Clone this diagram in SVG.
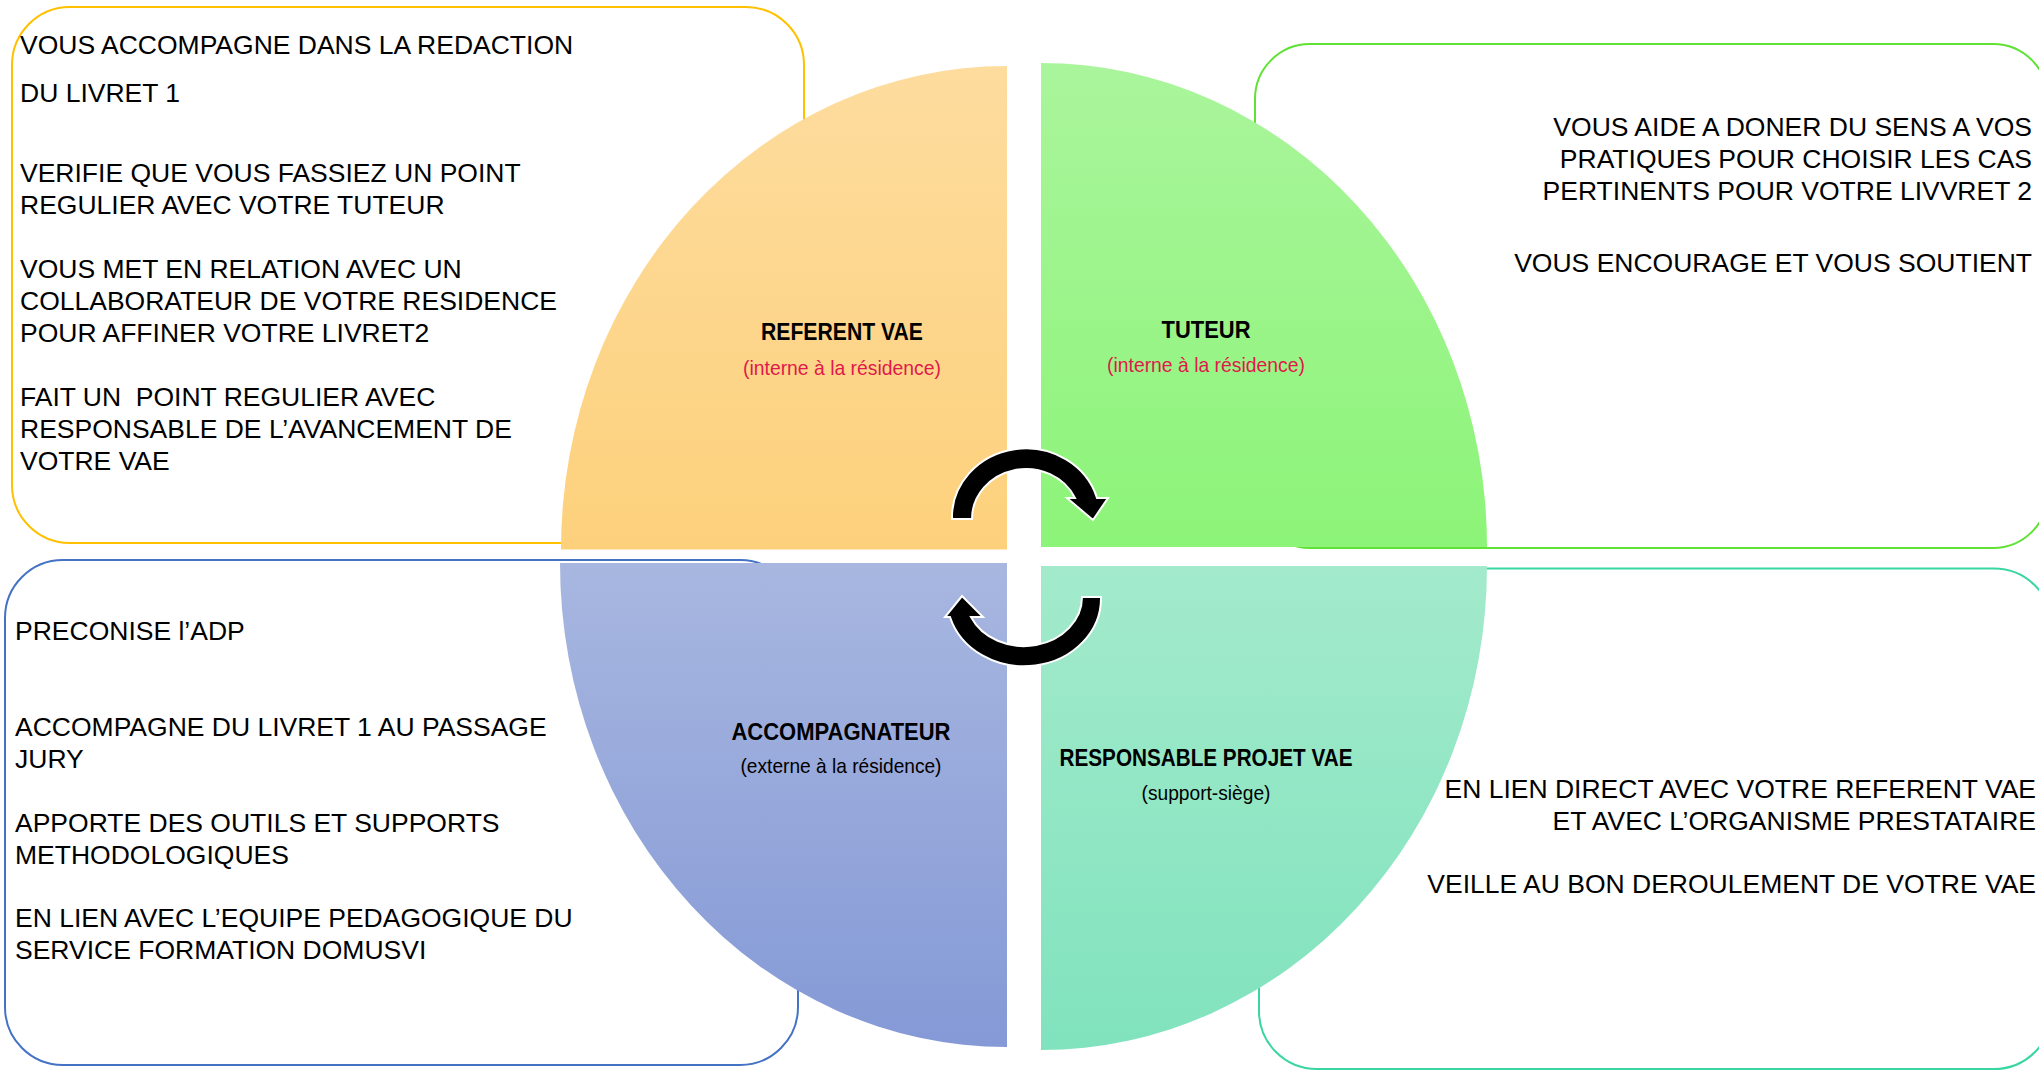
<svg xmlns="http://www.w3.org/2000/svg" width="2039" height="1070" viewBox="0 0 2039 1070">
<defs>
  <linearGradient id="gOrange" x1="0" y1="0" x2="0" y2="1"><stop offset="0" stop-color="#FDDC9E"/><stop offset="1" stop-color="#FDD17C"/></linearGradient>
  <linearGradient id="gGreen" x1="0" y1="0" x2="0" y2="1"><stop offset="0" stop-color="#AAF59C"/><stop offset="1" stop-color="#8CF478"/></linearGradient>
  <linearGradient id="gBlue" x1="0" y1="0" x2="0" y2="1"><stop offset="0" stop-color="#A8B7E0"/><stop offset="1" stop-color="#8499D6"/></linearGradient>
  <linearGradient id="gTeal" x1="0" y1="0" x2="0" y2="1"><stop offset="0" stop-color="#A3EACC"/><stop offset="1" stop-color="#80E3BD"/></linearGradient>
</defs>
<style>
  .box{fill:#fff;stroke-width:2}
  .t{font-family:"Liberation Sans",Arial,sans-serif;font-size:26.5px;fill:#000}
  .r{text-anchor:end}
  .lbl{font-family:"Liberation Sans",Arial,sans-serif;font-weight:bold;font-size:23px;text-anchor:middle;fill:#000}
  .sub{font-family:"Liberation Sans",Arial,sans-serif;font-size:21px;text-anchor:middle;fill:#000}
  .red{fill:#E0194B}
  .arrow{fill:#000;stroke:#fff;stroke-width:2;stroke-linejoin:miter}
</style>
<rect width="2039" height="1070" fill="#fff"/>

<g id="referent-vae">
  <rect class="box" x="12" y="7" width="792" height="536" rx="58" stroke="#FFC000"/>
  <path d="M1007,549.5 L561,549.5 A446,483.5 0 0 1 1007,66 Z" fill="url(#gOrange)"/>
  <text class="lbl" x="842" y="340" textLength="162" lengthAdjust="spacingAndGlyphs">REFERENT VAE</text>
  <text class="sub red" x="842" y="375" textLength="198" lengthAdjust="spacingAndGlyphs">(interne à la résidence)</text>
  <text class="t" x="20" y="54">VOUS ACCOMPAGNE DANS LA REDACTION</text>
  <text class="t" x="20" y="102">DU LIVRET 1</text>
  <text class="t" x="20" y="182">VERIFIE QUE VOUS FASSIEZ UN POINT</text>
  <text class="t" x="20" y="214">REGULIER AVEC VOTRE TUTEUR</text>
  <text class="t" x="20" y="278">VOUS MET EN RELATION AVEC UN</text>
  <text class="t" x="20" y="310">COLLABORATEUR DE VOTRE RESIDENCE</text>
  <text class="t" x="20" y="342">POUR AFFINER VOTRE LIVRET2</text>
  <text class="t" x="20" y="406" xml:space="preserve">FAIT UN  POINT REGULIER AVEC</text>
  <text class="t" x="20" y="438">RESPONSABLE DE L’AVANCEMENT DE</text>
  <text class="t" x="20" y="470">VOTRE VAE</text>
</g>

<g id="tuteur">
  <rect class="box" x="1255" y="44" width="793" height="504" rx="55" stroke="#5FE135"/>
  <path d="M1041,547 L1041,63 A446,484 0 0 1 1487,547 Z" fill="url(#gGreen)"/>
  <text class="lbl" x="1206" y="338" textLength="89" lengthAdjust="spacingAndGlyphs">TUTEUR</text>
  <text class="sub red" x="1206" y="372" textLength="198" lengthAdjust="spacingAndGlyphs">(interne à la résidence)</text>
  <text class="t r" x="2032" y="135.5">VOUS AIDE A DONER DU SENS A VOS</text>
  <text class="t r" x="2032" y="167.5">PRATIQUES POUR CHOISIR LES CAS</text>
  <text class="t r" x="2032" y="199.5">PERTINENTS POUR VOTRE LIVVRET 2</text>
  <text class="t r" x="2032" y="271.5">VOUS ENCOURAGE ET VOUS SOUTIENT</text>
</g>

<g id="accompagnateur">
  <rect class="box" x="5" y="560" width="793" height="505" rx="58" stroke="#4472C4"/>
  <path d="M1007,563 L1007,1047 A447,484 0 0 1 560,563 Z" fill="url(#gBlue)"/>
  <text class="lbl" x="841" y="740" textLength="219" lengthAdjust="spacingAndGlyphs">ACCOMPAGNATEUR</text>
  <text class="sub" x="841" y="773" textLength="201" lengthAdjust="spacingAndGlyphs">(externe à la résidence)</text>
  <text class="t" x="15" y="640">PRECONISE l’ADP</text>
  <text class="t" x="15" y="736">ACCOMPAGNE DU LIVRET 1 AU PASSAGE</text>
  <text class="t" x="15" y="768">JURY</text>
  <text class="t" x="15" y="831.5">APPORTE DES OUTILS ET SUPPORTS</text>
  <text class="t" x="15" y="863.5">METHODOLOGIQUES</text>
  <text class="t" x="15" y="927">EN LIEN AVEC L’EQUIPE PEDAGOGIQUE DU</text>
  <text class="t" x="15" y="959">SERVICE FORMATION DOMUSVI</text>
</g>

<g id="responsable-projet-vae">
  <rect class="box" x="1259" y="568.5" width="793" height="500.5" rx="58" stroke="#3AD6A0"/>
  <path d="M1041,566 L1487,566 A446,484 0 0 1 1041,1050 Z" fill="url(#gTeal)"/>
  <text class="lbl" x="1206" y="766" textLength="293" lengthAdjust="spacingAndGlyphs">RESPONSABLE PROJET VAE</text>
  <text class="sub" x="1206" y="800" textLength="129" lengthAdjust="spacingAndGlyphs">(support-siège)</text>
  <text class="t r" x="2036" y="797.5">EN LIEN DIRECT AVEC VOTRE REFERENT VAE</text>
  <text class="t r" x="2036" y="829.5">ET AVEC L’ORGANISME PRESTATAIRE</text>
  <text class="t r" x="2036" y="893">VEILLE AU BON DEROULEMENT DE VOTRE VAE</text>
</g>

<g id="connectors">
  <path class="arrow" d="M952,519 A74,69 0 0 1 1097,498 L1108,498 L1093,520 L1067,498 L1075,498 A54,50 0 0 0 972,519 Z"/>
  <path class="arrow" d="M1101,597 A77,68 0 0 1 950,617 L945,617 L962,596 L983,617 L971,617 A58,49 0 0 0 1082,597 Z"/>
</g>
</svg>
